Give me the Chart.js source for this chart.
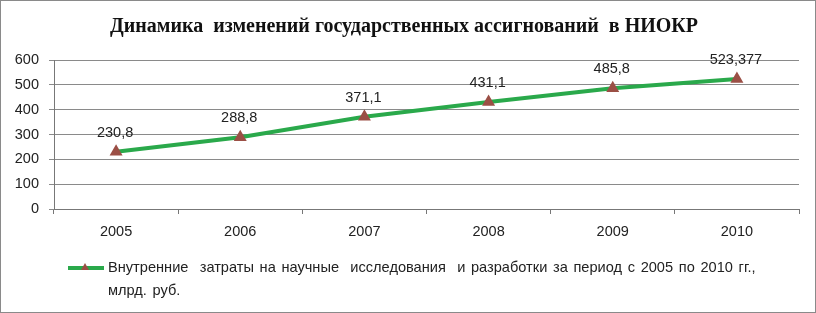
<!DOCTYPE html>
<html>
<head>
<meta charset="utf-8">
<script src="https://cdn.jsdelivr.net/npm/chart.js@4"></script>
<style>
  html, body { margin: 0; padding: 0; background: #fff; }
  #wrap { position: relative; width: 816px; height: 313px; box-sizing: border-box; border: 1px solid #8a8a8a; overflow: hidden; }
  #chart { position: absolute; left: 0; top: 0; }
  #legend { position: absolute; left: 67px; top: 255px; font-family: "Liberation Sans", sans-serif; font-size: 14.6px; color: #222; line-height: 23px; word-spacing: 1.6px; }
  #legend .mark { position: absolute; left: 0; top: 10px; width: 36px; height: 4px; background: #2aa94b; }
  #legend .tri { position: absolute; left: 13px; top: 7px; width: 0; height: 0; border-left: 4px solid transparent; border-right: 4px solid transparent; border-bottom: 7px solid #9b4f45; }
  #legend .txt { margin-left: 40px; }
</style>
</head>
<body>
<div id="wrap">
  <canvas id="chart" width="814" height="311"></canvas>
  <div id="legend">
    <span class="mark"></span><span class="tri"></span>
    <div class="txt">Внутренние&nbsp; затраты на научные&nbsp; исследования&nbsp; и разработки за период с 2005 по 2010 гг.,<br>млрд. руб.</div>
  </div>
</div>
<script>
const years = ['2005', '2006', '2007', '2008', '2009', '2010'];
const values = [230.8, 288.8, 371.1, 431.1, 485.8, 523.377];
const valueLabels = ['230,8', '288,8', '371,1', '431,1', '485,8', '523,377'];
const seriesName = 'Внутренние затраты на научные исследования и разработки за период с 2005 по 2010 гг., млрд. руб.';

// подписи значений над точками
const pointLabels = {
  id: 'pointLabels',
  afterDatasetsDraw(chart) {
    const ctx = chart.ctx;
    const meta = chart.getDatasetMeta(0);
    ctx.save();
    ctx.font = '14.5px "Liberation Sans", sans-serif';
    ctx.fillStyle = '#222';
    ctx.textAlign = 'center';
    ctx.textBaseline = 'middle';
    meta.data.forEach((pt, i) => {
      ctx.fillText(valueLabels[i], pt.x - 1, pt.y - 19);
    });
    ctx.restore();
  }
};

new Chart(document.getElementById('chart'), {
  type: 'line',
  data: {
    labels: years,
    datasets: [{
      label: seriesName,
      data: values,
      borderColor: '#2aa94b',
      borderWidth: 4,
      pointStyle: 'triangle',
      pointRadius: 3.5,
      pointBackgroundColor: '#9b4f45',
      pointBorderColor: '#9b4f45',
      tension: 0
    }]
  },
  options: {
    responsive: false,
    animation: false,
    layout: { padding: { left: 8, right: 16, top: 0, bottom: 68 } },
    plugins: {
      legend: { display: false },
      tooltip: { enabled: false },
      title: {
        display: true,
        text: 'Динамика  изменений государственных ассигнований  в НИОКР',
        color: '#111',
        font: { family: '"Liberation Serif", serif', size: 20, weight: 'bold' },
        padding: { top: 14, bottom: 21 }
      }
    },
    scales: {
      x: {
        offset: true,
        grid: { offset: true, drawOnChartArea: false, drawTicks: true, tickLength: 5, color: '#777' },
        border: { color: '#777' },
        ticks: { color: '#222', font: { family: '"Liberation Sans", sans-serif', size: 14.5 }, padding: 9 },
        afterFit(s) { s.height = 35; }
      },
      y: {
        min: 0,
        max: 600,
        ticks: { stepSize: 100, color: '#222', font: { family: '"Liberation Sans", sans-serif', size: 14.5 }, padding: 10 },
        grid: { color: '#8a8a8a', tickLength: 5 },
        border: { color: '#777' },
        afterFit(s) { s.width = 45; }
      }
    }
  },
  plugins: [pointLabels]
});
</script>
</body>
</html>
